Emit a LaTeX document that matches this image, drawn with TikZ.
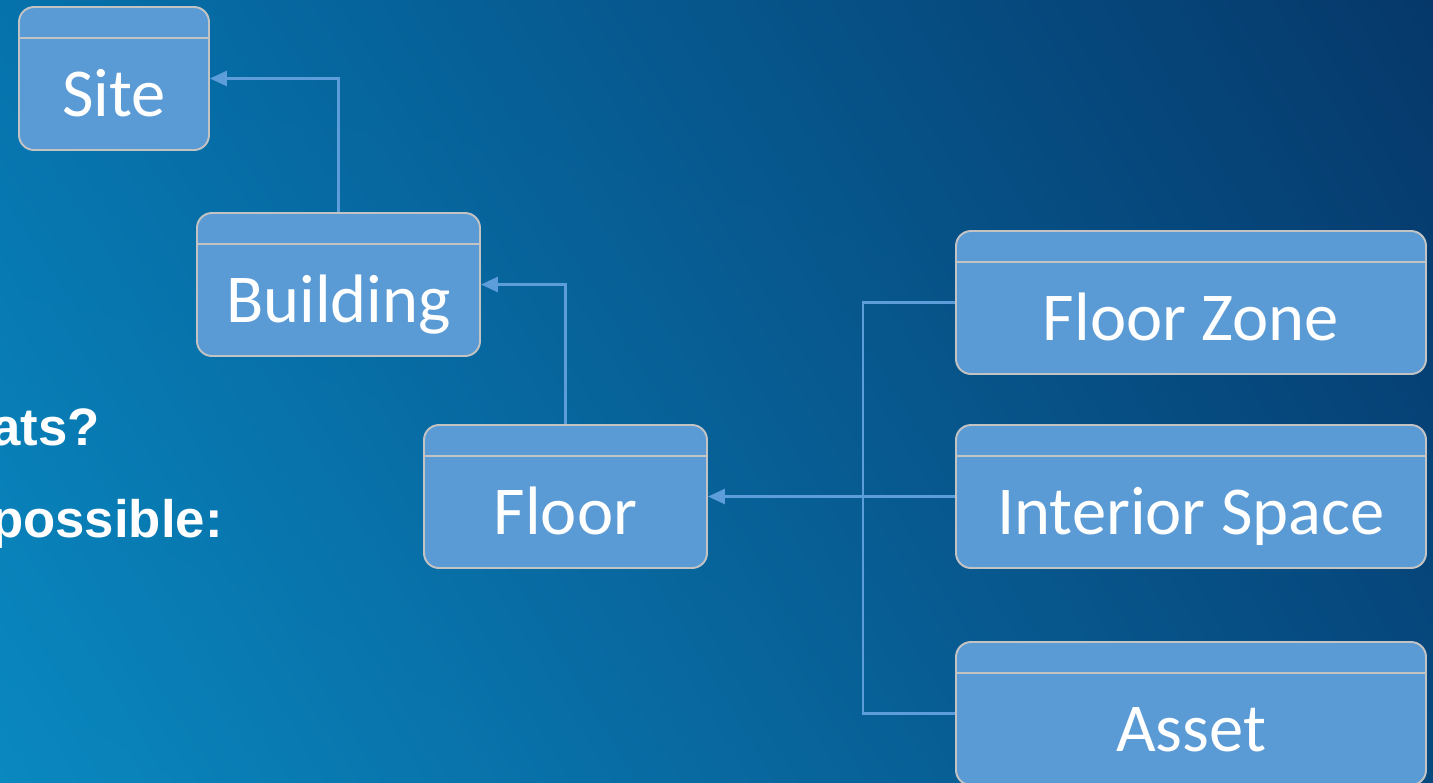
\documentclass[tikz,border=0pt]{standalone}
\usepackage{fontspec}
\setmainfont{Carlito}
\newfontfamily\notefont{Liberation Sans}
\usetikzlibrary{positioning, arrows.meta, shadings}

\definecolor{boxblue}{HTML}{5B9BD5}
\definecolor{boxedge}{HTML}{C3C3C3}
\definecolor{linkblue}{HTML}{5D9DDA}
\definecolor{bgul}{HTML}{0672AC}
\definecolor{bgur}{HTML}{06386A}
\definecolor{bgll}{HTML}{0A88C0}
\definecolor{bglr}{HTML}{064A80}

\tikzset{
  entity/.style={draw=boxedge, line width=1.1pt, fill=boxblue, rounded corners=0.3cm,
    minimum height=2.86cm, inner sep=0pt, text height=2.18cm, text depth=0.68cm,
    text=white, font=\fontsize{39}{44}\selectfont,
    path picture={\draw[boxedge, line width=1.1pt]
      ([yshift=-0.62cm]path picture bounding box.north west) --
      ([yshift=-0.62cm]path picture bounding box.north east);}},
  link/.style={draw=linkblue, line width=1.5pt},
  tip/.style={-{Triangle[length=0.34cm,width=0.3cm]}},
  note/.style={text=white, font=\notefont\bfseries\fontsize{30}{36}\selectfont, inner sep=0pt}
}

\begin{document}
\begin{tikzpicture}
\useasboundingbox (0,0) rectangle (28.66,-15.64);
\shade[upper left=bgul, upper right=bgur, lower left=bgll, lower right=bglr] (0,0) rectangle (28.66,-15.64);

%\draw [draw=black] (0,0) rectangle (28.66,-15.64);

\node[note, anchor=base east] (Q1) at (2.0,-8.9) {ats?};
\node[note, anchor=base east] (Q2) at (4.46,-10.74) {possible:};

\node[entity, minimum width=3.8cm] (Site) at (2.28,-1.57) {Site};
\node[entity, minimum width=5.66cm] (Building) at (6.77,-5.69) {Building};
\node[entity, minimum width=5.66cm] (Floor) at (11.31,-9.93) {Floor};
\node[entity, minimum width=9.4cm] (Zone) at (23.82,-6.05) {Floor Zone};
\node[entity, minimum width=9.4cm] (Space) at (23.82,-9.93) {Interior Space};
\node[entity, minimum width=9.4cm] (Asset) at (23.82,-14.27) {Asset};

\coordinate (bus) at (17.26,0);

\draw [link, tip] (Building.north) |- (Site.east);
\draw [link, tip] (Floor.north) |- (Building.east);
\draw [link] (Zone.west) -- (Zone.west -| bus) |- (Asset.west);
\draw [link, tip] (Space.west) -- (Floor.east);

\end{tikzpicture}
\end{document}
